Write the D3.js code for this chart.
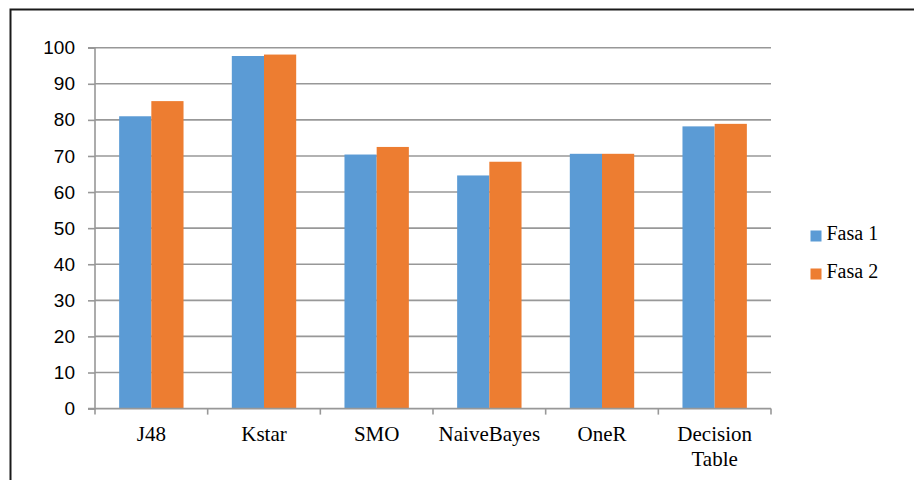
<!DOCTYPE html>
<html><head><meta charset="utf-8">
<script src="https://cdn.jsdelivr.net/npm/d3@7"></script>
<style>body{margin:0;background:#fff}svg{display:block}</style>
</head><body>
<svg id="c" width="914" height="480"></svg>
<script>
const categories = ["J48", "Kstar", "SMO", "NaiveBayes", "OneR", "Decision Table"];
const seriesNames = ["Fasa 1", "Fasa 2"];
const fasa1 = [81.0, 97.7, 70.4, 64.6, 70.6, 78.2];
const fasa2 = [85.2, 98.1, 72.5, 68.4, 70.6, 78.9];
const yTicks = [0, 10, 20, 30, 40, 50, 60, 70, 80, 90, 100];
const colors = ["#5b9bd5", "#ed7d31"];

const svg = d3.select("#c");
const L = 95, R = 771, T = 47.7, B = 408.6;

const x = d3.scaleBand().domain(categories).range([L, R]);
const x1 = d3.scaleBand().domain(seriesNames).range([0, x.bandwidth()]).paddingOuter(0.75).paddingInner(0);
const y = d3.scaleLinear().domain([0, 100]).range([B, T]);

// outer frame (top and left visible)
svg.append("path").attr("d", `M10.5,480 V9.5 H914`).attr("fill","none").attr("stroke","#1a1a1a").attr("stroke-width",2);

// gridlines
svg.append("g").selectAll("line").data(yTicks.filter(d=>d>0)).join("line")
  .attr("x1", L).attr("x2", R).attr("y1", d=>y(d)).attr("y2", d=>y(d))
  .attr("stroke", "#989898").attr("stroke-width", 1.6);

// bars
const data = categories.map((c,i)=>({c, vals:[fasa1[i], fasa2[i]]}));
const g = svg.append("g");
data.forEach(d=>{
  d.vals.forEach((v,j)=>{
    g.append("rect")
      .attr("x", x(d.c)+x1(seriesNames[j]))
      .attr("width", x1.bandwidth())
      .attr("y", y(v)).attr("height", B - y(v))
      .attr("fill", colors[j]);
  });
});

// y axis
const yAxis = d3.axisLeft(y).tickValues(yTicks).tickSize(7).tickPadding(13).tickFormat(d3.format("d"));
const ya = svg.append("g").attr("transform", `translate(${L},0)`).call(yAxis);
ya.select(".domain").attr("stroke","#989898").attr("stroke-width",1.6).attr("d", `M-7,${B}H0V${T}H-7`);
ya.selectAll(".tick line").attr("stroke","#989898").attr("stroke-width",1.6);
ya.selectAll(".tick text").attr("font-family","Liberation Sans, Arial, sans-serif").attr("font-size",19).attr("fill","#000");

// x axis
const xa = svg.append("g").attr("transform", `translate(0,${B})`);
xa.append("line").attr("x1", L).attr("x2", R).attr("stroke","#989898").attr("stroke-width",1.6);
const tickPos = categories.map(c=>x(c)).concat([R]);
xa.selectAll("line.t").data(tickPos).join("line").attr("class","t")
  .attr("x1", d=>d).attr("x2", d=>d).attr("y1", 0).attr("y2", 6)
  .attr("stroke","#989898").attr("stroke-width",1.6);
const xt = xa.selectAll("text").data(categories).join("text")
  .attr("x", d=>x(d)+x.bandwidth()/2).attr("y", 32)
  .attr("text-anchor","middle")
  .attr("font-family","Liberation Serif, Times New Roman, serif").attr("font-size",21).attr("fill","#000");
xt.each(function(d){
  const words = d.split(" ");
  const t = d3.select(this);
  words.forEach((w,i)=>{
    t.append("tspan").attr("x", x(d)+x.bandwidth()/2).attr("dy", i===0?0:25).text(w);
  });
});

// legend
const lg = svg.append("g");
seriesNames.forEach((s,i)=>{
  const yy = 236 + i*38;
  lg.append("rect").attr("x", 810.5).attr("y", yy-5.5).attr("width", 11).attr("height", 11).attr("fill", colors[i]);
  lg.append("text").attr("x", 826.5).attr("y", yy+4).text(s)
    .attr("font-family","Liberation Serif, Times New Roman, serif").attr("font-size",20).attr("fill","#000");
});
</script>
</body></html>
